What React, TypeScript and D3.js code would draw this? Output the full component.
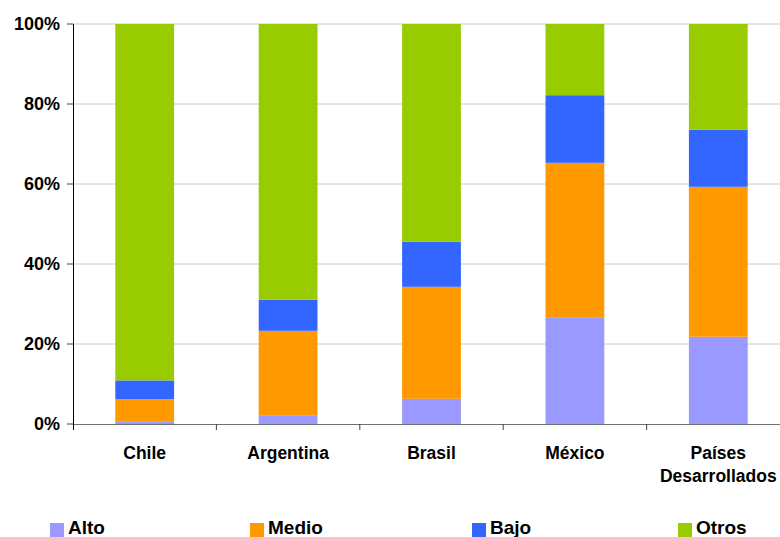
import React from "react";
import * as d3 from "d3";

const categories = ["Chile", "Argentina", "Brasil", "México", "Países Desarrollados"];
const seriesNames = ["Alto", "Medio", "Bajo", "Otros"];
const alto = [0.7, 2.2, 6.3, 26.7, 21.8];
const medio = [5.5, 21.1, 28.0, 38.6, 37.5];
const bajo = [4.7, 7.8, 11.3, 16.9, 14.3];
const otros = [89.1, 68.9, 54.4, 17.8, 26.4];
const yTicks = [0, 20, 40, 60, 80, 100];
const colors = ["#9999FF", "#FF9900", "#3366FF", "#99CC00"];
const legendX = [50, 250, 472, 678];

const W = 780;
const H = 537;
const left = 73;
const right = 790;
const top = 24;
const bottom = 424;

export default function App() {
  const values = [alto, medio, bajo, otros];
  const rows = categories.map((c, i) => {
    const r: any = { cat: c };
    seriesNames.forEach((s, j) => (r[s] = values[j][i]));
    return r;
  });
  const stacked = d3.stack().keys(seriesNames)(rows);
  const x = d3.scaleBand().domain(categories).range([left, right]).paddingInner(0.59).paddingOuter(0.295);
  const y = d3.scaleLinear().domain([0, 100]).range([bottom, top]);
  const step = x.step();
  const font = "'Liberation Sans', Arial, sans-serif";

  return (
    <svg width={W} height={H} style={{ position: "absolute", left: 0, top: 0, background: "#fff" }} fontFamily={font}>
      {yTicks.filter((t) => t > 0).map((t) => (
        <line key={"g" + t} x1={left} x2={W} y1={y(t)} y2={y(t)} stroke="#c8c8c8" strokeWidth={1} />
      ))}
      {stacked.map((layer, j) => (
        <g key={layer.key} fill={colors[j]}>
          {layer.map((d, i) => (
            <rect
              key={i}
              x={x(categories[i])}
              width={x.bandwidth()}
              y={y(d[1])}
              height={y(d[0]) - y(d[1])}
            />
          ))}
        </g>
      ))}
      {/* x axis */}
      <line x1={left} x2={W} y1={bottom + 0.5} y2={bottom + 0.5} stroke="#707070" strokeWidth={1} />
      {categories.map((c, i) => (
        <line key={"xt" + i} x1={left + step * (i + 1)} x2={left + step * (i + 1)} y1={bottom} y2={bottom + 6} stroke="#404040" />
      ))}
      {/* y axis */}
      <line x1={left + 0.5} x2={left + 0.5} y1={top} y2={bottom + 6} stroke="#000" strokeWidth={1} />
      {yTicks.map((t) => (
        <g key={"yt" + t}>
          <line x1={left - 6} x2={left} y1={y(t)} y2={y(t)} stroke="#404040" />
          <text x={60} y={y(t)} dy="0.35em" textAnchor="end" fontSize={18} fontWeight="bold" fill="#000">
            {t + "%"}
          </text>
        </g>
      ))}
      {categories.map((c) => {
        const cx = (x(c) as number) + x.bandwidth() / 2;
        const parts = c === "Países Desarrollados" ? ["Países", "Desarrollados"] : [c];
        return (
          <text key={"xl" + c} x={cx} y={459} textAnchor="middle" fontSize={17.5} fontWeight="bold" fill="#000">
            {parts.map((p, k) => (
              <tspan key={k} x={cx} dy={k === 0 ? 0 : 23}>
                {p}
              </tspan>
            ))}
          </text>
        );
      })}
      {seriesNames.map((s, j) => (
        <g key={"lg" + s}>
          <rect x={legendX[j]} y={523} width={14} height={14} fill={colors[j]} />
          <text x={legendX[j] + 18} y={534} fontSize={19} fontWeight="bold" fill="#000">
            {s}
          </text>
        </g>
      ))}
    </svg>
  );
}
